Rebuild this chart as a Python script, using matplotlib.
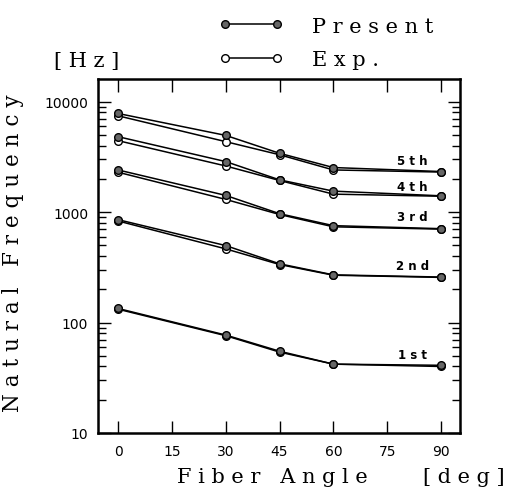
import numpy as np
import matplotlib
matplotlib.use('Agg')
import matplotlib.pyplot as plt

# fiber angle [deg]
angle = [0, 30, 45, 60, 90]

# natural frequency [Hz], present analysis
present_1st = [134, 77, 55, 42, 41]
present_2nd = [853, 497, 340, 270, 258]
present_3rd = [2404, 1414, 966, 753, 707]
present_4th = [4808, 2862, 1955, 1546, 1402]
present_5th = [7798, 4940, 3402, 2528, 2326]

# natural frequency [Hz], experiment
exp_1st = [132, 76, 54, 42, 40]
exp_2nd = [830, 464, 335, 268, 256]
exp_3rd = [2292, 1301, 950, 735, 700]
exp_4th = [4426, 2612, 1930, 1452, 1390]
exp_5th = [7430, 4335, 3300, 2404, 2300]

mode_names = ['1 s t', '2 n d', '3 r d', '4 t h', '5 t h']
mode_label_y = [51, 327, 902, 1715, 2940]

xticks = [0, 15, 30, 45, 60, 75, 90]

present = [present_1st, present_2nd, present_3rd, present_4th, present_5th]
exp = [exp_1st, exp_2nd, exp_3rd, exp_4th, exp_5th]

serif = ['DejaVu Serif']

fig = plt.figure(figsize=(5.13, 4.89), dpi=100)
ax = fig.add_axes([98/513, 1-434/489, 362/513, 354/489])

for i in range(5):
    le, = ax.plot(angle, exp[i], '-o', color='black', lw=1.1, ms=5.5,
                  mfc='white', mec='black', mew=1.0, zorder=3)
    lp, = ax.plot(angle, present[i], '-o', color='black', lw=1.1, ms=5.5,
                  mfc='#666666', mec='black', mew=1.0, zorder=4)
    ax.text(82, mode_label_y[i], mode_names[i], ha='center', va='center',
            fontsize=8.5, fontweight='bold', family='DejaVu Sans')

ax.set_yscale('log')
ax.set_ylim(10, 16000)
ax.set_xlim(-5.6, 95.3)
ax.set_xticks(xticks)
ax.set_yticks([10, 100, 1000, 10000])
ax.set_yticklabels(['10', '100', '1000', '10000'])
ax.tick_params(which='both', direction='in', top=True, right=True,
               width=1.0, labelsize=10)
ax.tick_params(axis='x', which='major', length=9, pad=8)
ax.tick_params(axis='y', which='major', length=9, pad=7)
ax.tick_params(axis='y', which='minor', length=6)
for s in ax.spines.values():
    s.set_linewidth(1.8)

fig.text(13/513, 1-253/489, 'N a t u r a l   F r e q u e n c y', rotation=90,
         ha='center', va='center', fontsize=15.5, family=serif)
fig.text(177/513, 1-478/489, 'F i b e r   A n g l e', ha='left', va='center',
         fontsize=15, family=serif)
fig.text(505/513, 1-478/489, '[ d e g ]', ha='right', va='center',
         fontsize=15, family=serif)
fig.text(87/513, 1-62/489, '[ H z ]', ha='center', va='center',
         fontsize=15, family=serif)

leg = fig.legend([lp, le], ['P r e s e n t', 'E x p .'], loc='upper left',
                 bbox_to_anchor=(200/513, 1+1/489), frameon=False, numpoints=2,
                 handlelength=3.1, handletextpad=1.4, labelspacing=0.7,
                 prop={'family': serif, 'size': 15})

plt.savefig('out.png', dpi=100)
